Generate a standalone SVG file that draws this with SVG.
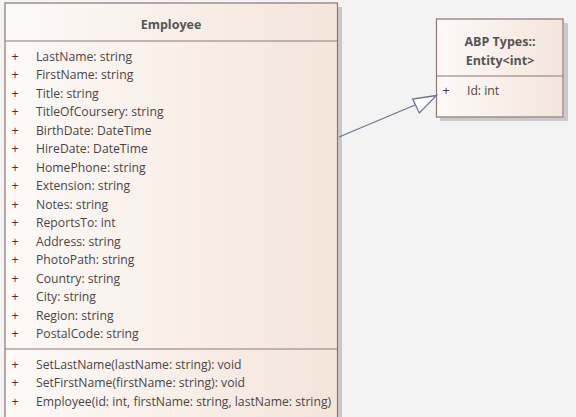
<svg xmlns="http://www.w3.org/2000/svg" width="576" height="417" viewBox="0 0 576 417">
<defs>
<linearGradient id="fill" x1="0" y1="0" x2="1" y2="0">
<stop offset="0" stop-color="#fdfaf8"/>
<stop offset="1" stop-color="#f4e5da"/>
</linearGradient>
<style>
.box{fill:url(#fill);stroke:#8e7676;stroke-width:1.2}
.sh{fill:#c9c9c9}
.sep{stroke:#8e7676;stroke-width:1.2}
.t{font-family:"Open Sans","Noto Sans",sans-serif;font-size:12.2px;fill:#4d4444}
.p{font-family:"Open Sans","Noto Sans",sans-serif;font-size:12.5px;fill:#552840}
.h{font-family:"Open Sans","Noto Sans",sans-serif;font-size:12.5px;font-weight:bold;fill:#555555;text-anchor:middle}
.c{stroke:#6a7590;stroke-width:1.3;fill:none}
.a{stroke:#6a7590;stroke-width:1.3;fill:#ffffff}
</style>
</defs>
<rect width="576" height="417" fill="#f3f3f3"/>
<g id="Employee">
<rect class="sh" x="338" y="7" width="4" height="410"/>
<rect class="box" x="5" y="3" width="332.5" height="420"/>
<line class="sep" x1="5" y1="41" x2="337.5" y2="41"/>
<line class="sep" x1="5" y1="349" x2="337.5" y2="349"/>
<text class="h" x="171" y="29">Employee</text>
<g class="p">
<text x="11.5" y="60.5">+</text><text x="11.5" y="79">+</text><text x="11.5" y="97.5">+</text><text x="11.5" y="116">+</text>
<text x="11.5" y="134.5">+</text><text x="11.5" y="153">+</text><text x="11.5" y="171.5">+</text><text x="11.5" y="190">+</text>
<text x="11.5" y="208.5">+</text><text x="11.5" y="227">+</text><text x="11.5" y="245.5">+</text><text x="11.5" y="264">+</text>
<text x="11.5" y="282.5">+</text><text x="11.5" y="301">+</text><text x="11.5" y="319.5">+</text><text x="11.5" y="338">+</text>
<text x="11.5" y="368.5">+</text><text x="11.5" y="387">+</text><text x="11.5" y="405.5">+</text>
</g>
<g class="t">
<text x="36" y="60.5">LastName: string</text>
<text x="36" y="79">FirstName: string</text>
<text x="36" y="97.5">Title: string</text>
<text x="36" y="116">TitleOfCoursery: string</text>
<text x="36" y="134.5">BirthDate: DateTime</text>
<text x="36" y="153">HireDate: DateTime</text>
<text x="36" y="171.5">HomePhone: string</text>
<text x="36" y="190">Extension: string</text>
<text x="36" y="208.5">Notes: string</text>
<text x="36" y="227">ReportsTo: int</text>
<text x="36" y="245.5">Address: string</text>
<text x="36" y="264">PhotoPath: string</text>
<text x="36" y="282.5">Country: string</text>
<text x="36" y="301">City: string</text>
<text x="36" y="319.5">Region: string</text>
<text x="36" y="338">PostalCode: string</text>
<text x="36" y="368.5">SetLastName(lastName: string): void</text>
<text x="36" y="387">SetFirstName(firstName: string): void</text>
<text x="36" y="405.5">Employee(id: int, firstName: string, lastName: string)</text>
</g>
</g>
<g id="Entity">
<rect class="sh" x="564" y="23" width="4" height="98"/>
<rect class="sh" x="440" y="117.5" width="128" height="3.5"/>
<rect class="box" x="436.5" y="19" width="126.5" height="98"/>
<line class="sep" x1="436.5" y1="76" x2="563" y2="76"/>
<text class="h" x="500" y="45.5">ABP Types::</text>
<text class="h" x="500" y="64.5">Entity&lt;int&gt;</text>
<text class="p" x="442.5" y="94.5">+</text>
<text class="t" x="467" y="94.5">Id: int</text>
</g>
<g id="connectors">
<line class="c" x1="339" y1="137" x2="415" y2="105"/>
<polygon class="a" points="436.5,95.5 412.7,99 419.3,113"/>
</g>
</svg>
